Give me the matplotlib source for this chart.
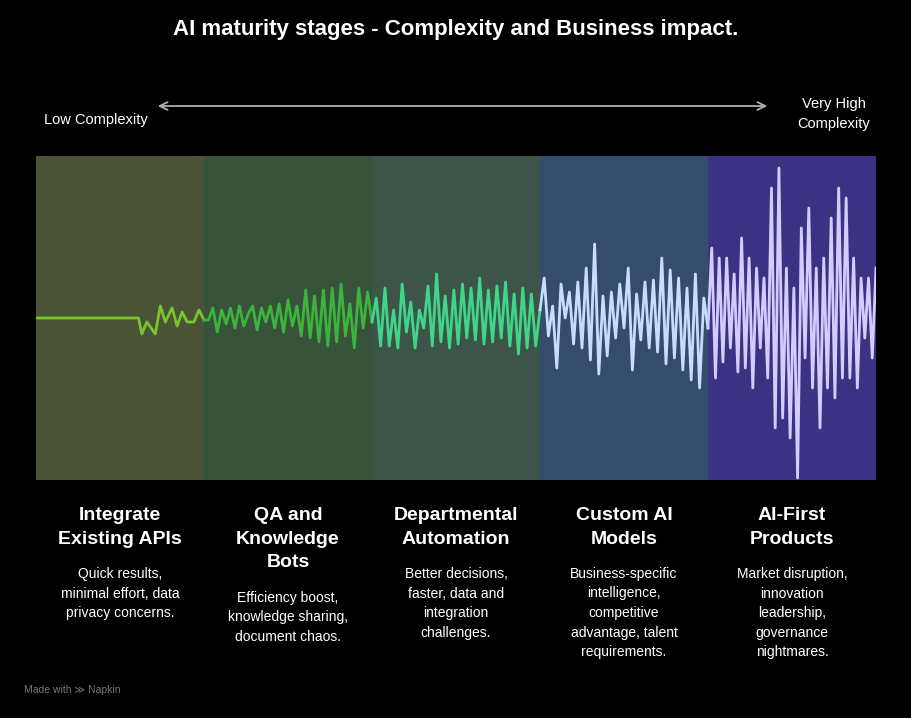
import matplotlib.pyplot as plt
import numpy as np

plt.rcParams["font.family"] = ["Liberation Sans", "DejaVu Sans"]

# stage data
titles = ["Integrate\nExisting APIs", "QA and\nKnowledge\nBots", "Departmental\nAutomation",
          "Custom AI\nModels", "AI-First\nProducts"]
descs = ["Quick results,\nminimal effort, data\nprivacy concerns.",
         "Efficiency boost,\nknowledge sharing,\ndocument chaos.",
         "Better decisions,\nfaster, data and\nintegration\nchallenges.",
         "Business-specific\nintelligence,\ncompetitive\nadvantage, talent\nrequirements.",
         "Market disruption,\ninnovation\nleadership,\ngovernance\nnightmares."]
panel_colors = ["#4a5336", "#37533b", "#3d5548", "#344d6c", "#3b3283"]
line_colors = ["#7ac52c", "#3cb43c", "#40d68a", "#c8dcff", "#d4ccff"]

# wave values (offsets from the centre line, in pixels, up positive)
stage1_x = [0, 0.61, 0.63, 0.66, 0.71, 0.74, 0.77, 0.81, 0.84, 0.87, 0.9, 0.94, 0.97, 1.0]
stage1_y = [0, 0, -16, -4, -16, 12, -4, 10, -8, 6, -4, -4, 8, -2]
stage2_y = [-2, 10, -14, 8, -6, 10, -10, 12, -8, 4, 12, -12, 10, -4, 12, -10, 14, -14, 18, -8,
            12, -18, 28, -20, 22, -24, 28, -28, 30, -24, 34, -18, 14, -30, 30, -10, 26, -4]
stage3_y = [20, -28, 30, -28, 8, -30, 34, -14, 16, -30, 8, -10, 32, -28, 44, -24, 22, -30, 28, -26,
            34, -20, 30, -22, 40, -26, 28, -24, 32, -20, 36, -28, 24, -36, 30, -30, 24, -28, 8]
stage4_y = [40, -18, 12, -50, 34, 0, 26, -26, 36, -30, 50, -42, 74, -56, 22, -38, 26, -20, 34, -10,
            50, -52, 24, -22, 36, -30, 38, -34, 60, -46, 48, -40, 40, -52, 30, -62, 44, -70, 20, -10]
stage5_y = [70, -60, 60, -44, 60, -30, 44, -54, 80, -50, 60, -70, 50, -30, 40, -60, 130, -110, 150, -100,
            50, -120, 30, -160, 90, -40, 110, -70, 50, -110, 60, -70, 100, -80, 130, -60, 120, -60, 60,
            -70, 40, -20, 40, -40, 50]

W, H = 912, 718
fig = plt.figure(figsize=(W / 100, H / 100), dpi=100, facecolor="black")

# waveform axes over panel area: x 36..876, y 156..480
ax = fig.add_axes([36 / W, 1 - 480 / H, 840 / W, 324 / H])
ax.set_xlim(0, 5)
ax.set_ylim(-162, 162)
ax.axis("off")
for i, c in enumerate(panel_colors):
    ax.axvspan(i, i + 1, color=c, lw=0)

prev = (stage1_x[-1], stage1_y[-1])
ax.plot(stage1_x, stage1_y, color=line_colors[0], lw=2)
for i, ys in enumerate([stage2_y, stage3_y, stage4_y, stage5_y], start=1):
    xs = np.linspace(i, i + 1, len(ys) + 1)[1:]
    ax.plot([prev[0]] + list(xs), [prev[1]] + ys, color=line_colors[i], lw=2)
    prev = (xs[-1], ys[-1])

# text layer
tx = fig.add_axes([0, 0, 1, 1])
tx.set_xlim(0, W)
tx.set_ylim(H, 0)
tx.axis("off")
tx.patch.set_alpha(0)

tx.text(456, 30, "AI maturity stages - Complexity and Business impact.", ha="center", va="center",
        color="white", fontsize=16, fontweight="bold")
tx.text(96, 120, "Low Complexity", ha="center", va="center", color="white", fontsize=10.5)
tx.text(834, 114, "Very High\nComplexity", ha="center", va="center", color="white", fontsize=10.5,
        linespacing=1.5)
tx.annotate("", xy=(770, 106), xytext=(155, 106),
            arrowprops=dict(arrowstyle="<->", color="#b0b0b0", lw=1.3, mutation_scale=14))

for i, (t, d) in enumerate(zip(titles, descs)):
    cx = 120 + 168 * i
    tx.text(cx, 507, t, ha="center", va="top", color="white", fontsize=14,
            fontweight="bold", linespacing=1.5)
    ny = t.count("\n") + 1
    tx.text(cx, 567 + 24 * (ny - 2), d, ha="center", va="top", color="white", fontsize=10,
            linespacing=1.5)

tx.text(24, 690, "Made with \u226b Napkin", ha="left", va="center", color="#777777", fontsize=7.5)

fig.savefig("out.png", dpi=100, facecolor="black")
